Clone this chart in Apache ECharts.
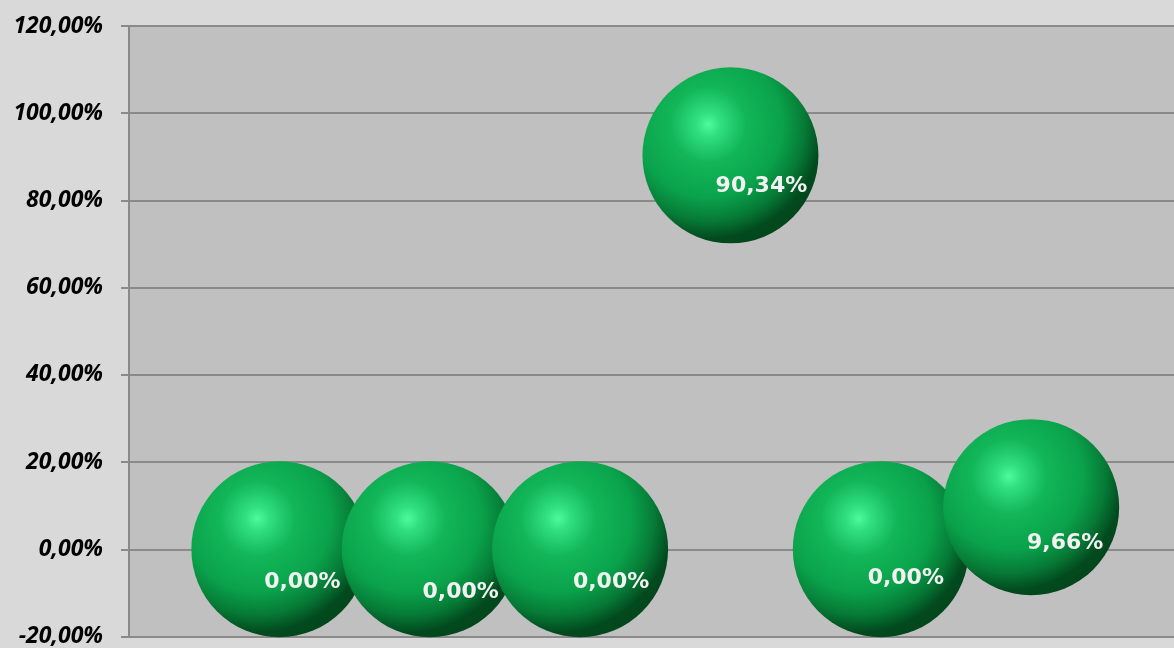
<!DOCTYPE html>
<html>
<head>
<meta charset="utf-8">
<script src="https://cdn.jsdelivr.net/npm/echarts@6/dist/echarts.min.js"></script>
<style>
  html, body { margin: 0; padding: 0; background: #d9d9d9; }
  #chart { width: 1174px; height: 648px; }
</style>
</head>
<body>
<div id="chart"></div>
<script>
// positions along the x axis (no labels shown in the original)
const xValues = [1, 2, 3, 4, 5, 6]
// percentages
const yValues = [0, 0, 0, 90.34, 0, 9.66]
// y axis ticks
const yTicks = { min: -20, max: 120, step: 20 }
// label nudges so they sit like the excel ones
const labelOffsets = [[23, 33], [31, 43], [31, 33], [31, 31], [25, 29], [34, 36]]

const fmt = v => v.toFixed(2).replace('.', ',') + '%'

// 3d ball look, light comes from upper left
const sphere = new echarts.graphic.RadialGradient(0.375, 0.325, 0.72, [
  { offset: 0, color: '#4dfb9c' },
  { offset: 0.1, color: '#30de80' },
  { offset: 0.3, color: '#12b659' },
  { offset: 0.58, color: '#0aa24b' },
  { offset: 0.76, color: '#067a36' },
  { offset: 0.9, color: '#024a1e' },
  { offset: 1, color: '#03461c' }
])

const chart = echarts.init(document.getElementById('chart'))

chart.setOption({
  backgroundColor: '#d9d9d9',
  animation: false,
  grid: {
    left: 129, top: 26, bottom: 11, right: 0,
    show: true, backgroundColor: '#c0c0c0', borderWidth: 0
  },
  xAxis: {
    type: 'value', min: 0, max: 6.95,
    show: false
  },
  yAxis: {
    type: 'value',
    min: yTicks.min, max: yTicks.max, interval: yTicks.step,
    axisLine: { show: true, lineStyle: { color: '#8a8a8a', width: 2 } },
    axisTick: { show: true, length: 8, lineStyle: { color: '#8a8a8a', width: 2 } },
    splitLine: { lineStyle: { color: '#8a8a8a', width: 2 } },
    axisLabel: {
      formatter: fmt,
      margin: 26,
      color: '#000',
      fontFamily: 'Open Sans',
      fontStyle: 'italic',
      fontWeight: 'bold',
      fontSize: 23
    }
  },
  series: [{
    type: 'scatter',
    symbolSize: 176,
    itemStyle: { color: sphere, opacity: 1 },
    label: {
      show: true,
      position: 'inside',
      color: '#f2f2f2',
      fontFamily: 'DejaVu Sans',
      fontWeight: 'bold',
      fontSize: 22,
      formatter: p => fmt(p.value[1])
    },
    data: xValues.map((x, i) => ({
      value: [x, yValues[i]],
      label: { offset: labelOffsets[i] }
    }))
  }]
})

window.addEventListener('resize', () => chart.resize())
</script>
</body>
</html>
